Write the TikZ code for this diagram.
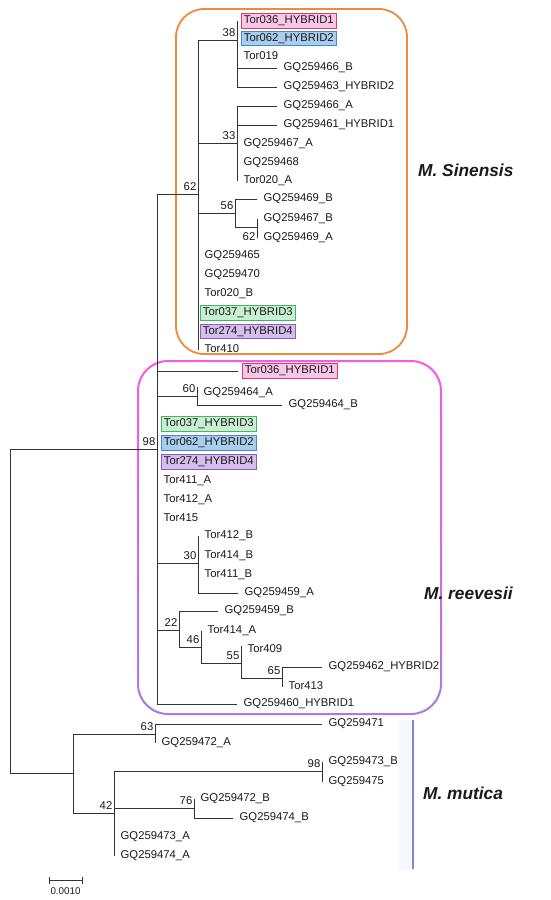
\documentclass[tikz,border=0pt]{standalone}
\usepackage{fontspec}
\setmainfont{Liberation Sans}
\definecolor{treegray}{HTML}{333333}
\definecolor{txt}{HTML}{1A1A1A}
\definecolor{orangeb}{HTML}{EE8A3A}
\definecolor{pinktop}{HTML}{F25CE8}
\definecolor{purplebot}{HTML}{A77CE6}
\definecolor{hyaf}{HTML}{F9C5EA}
\definecolor{hyad}{HTML}{E23B5C}
\definecolor{hybf}{HTML}{A9CDEC}
\definecolor{hybd}{HTML}{3E8CCB}
\definecolor{hycf}{HTML}{C9EFD2}
\definecolor{hycd}{HTML}{45B463}
\definecolor{hydf}{HTML}{D4BEEC}
\definecolor{hydd}{HTML}{8E5CBC}
\definecolor{blueline}{HTML}{7F86D6}
\definecolor{bluestrip}{HTML}{F5F9FD}
\newcommand\leaffont{\fontsize{11.3}{13}\selectfont}
\newcommand\cladefont{\fontsize{17.3}{20}\selectfont\bfseries\itshape}
\newcommand\mkleaf[6]{\coordinate (#2) at (#3,#4); \draw[br] (#1) |- (#2); \node[#5] (#2-l) at (#2) {#6};}
\begin{document}
\begin{tikzpicture}[x=1pt,y=-1pt,
  br/.style={draw=treegray, line width=0.95pt},
  leaf/.style={anchor=west, inner xsep=3pt, inner ysep=2pt, text height=8.3pt, text depth=2.4pt, font=\leaffont, text=txt, xshift=3.5pt},
  hya/.style={leaf, fill=hyaf, draw=hyad, line width=0.8pt},
  hyb/.style={leaf, fill=hybf, draw=hybd, line width=0.8pt},
  hyc/.style={leaf, fill=hycf, draw=hycd, line width=0.8pt},
  hyd/.style={leaf, fill=hydf, draw=hydd, line width=0.8pt},
  bs/.style={anchor=base east, inner sep=0pt, font=\leaffont, text=txt, xshift=-1.5pt, yshift=3.5pt},
  bsz/.style={anchor=base east, inner sep=0pt, font=\leaffont, text=txt},
  clade/.style={anchor=west, inner sep=0pt, font=\cladefont, text=txt}]
\useasboundingbox (0,0) rectangle (550,900);
\fill[white] (0,0) rectangle (550,900);
% clade frames
\draw[orangeb, line width=1.8pt, rounded corners=28pt] (176,9) rectangle (407,354);
\shade[top color=pinktop, bottom color=purplebot, even odd rule]
  [rounded corners=31pt] (137,360) rectangle (442,715)
  [rounded corners=29pt] (139,362) rectangle (440,713);
\fill[bluestrip] (399,720) rectangle (413,870);
\coordinate (bl1) at (413,720);
\coordinate (bl2) at (413,869);
\draw[blueline, line width=1.6pt] (bl1) -- (bl2);
% internal nodes
\coordinate (R) at (10,600);
\coordinate (n98) at (157,449);
\coordinate (n62s) at (198,194);
\coordinate (n38) at (237,40);
\coordinate (n33) at (237,143);
\coordinate (n56) at (235,213);
\coordinate (n62i) at (257,227);
\coordinate (n60) at (197,396);
\coordinate (n30) at (198,563);
\coordinate (n22) at (179,630);
\coordinate (n46) at (201,647);
\coordinate (n55) at (241,663);
\coordinate (n65) at (282,678);
\coordinate (nM) at (73,773);
\coordinate (n63) at (155,734);
\coordinate (n42) at (114,813);
\coordinate (n98b) at (322,771);
\coordinate (n76) at (194,808);
\draw[br] (R) |- (n98);
\draw[br] (R) |- (nM);
\draw[br] (n98) |- (n62s);
\draw[br] (n62s) |- (n38);
\draw[br] (n62s) |- (n33);
\draw[br] (n62s) |- (n56);
\draw[br] (n56) |- (n62i);
\draw[br] (n98) |- (n60);
\draw[br] (n98) |- (n30);
\draw[br] (n98) |- (n22);
\draw[br] (n22) |- (n46);
\draw[br] (n46) |- (n55);
\draw[br] (n55) |- (n65);
\draw[br] (nM) |- (n63);
\draw[br] (nM) |- (n42);
\draw[br] (n42) |- (n98b);
\draw[br] (n42) |- (n76);
% leaves: M. Sinensis
\mkleaf{n38}{a1}{237}{21}{hya}{Tor036\_HYBRID1}
\mkleaf{n38}{a2}{237}{38.5}{hyb}{Tor062\_HYBRID2}
\mkleaf{n38}{a3}{237}{57}{leaf}{Tor019}
\mkleaf{n38}{a4}{277}{68}{leaf}{GQ259466\_B}
\mkleaf{n38}{a5}{277}{87}{leaf}{GQ259463\_HYBRID2}
\mkleaf{n33}{b1}{277}{106}{leaf}{GQ259466\_A}
\mkleaf{n33}{b2}{277}{125}{leaf}{GQ259461\_HYBRID1}
\mkleaf{n33}{b3}{237}{144}{leaf}{GQ259467\_A}
\mkleaf{n33}{b4}{237}{163}{leaf}{GQ259468}
\mkleaf{n33}{b5}{237}{181}{leaf}{Tor020\_A}
\mkleaf{n56}{c1}{257}{199}{leaf}{GQ259469\_B}
\mkleaf{n62i}{c2}{257}{219}{leaf}{GQ259467\_B}
\mkleaf{n62i}{c3}{257}{238}{leaf}{GQ259469\_A}
\mkleaf{n62s}{d1}{198}{256}{leaf}{GQ259465}
\mkleaf{n62s}{d2}{198}{275}{leaf}{GQ259470}
\mkleaf{n62s}{d3}{198}{294}{leaf}{Tor020\_B}
\mkleaf{n62s}{d4}{198}{313}{hyc,xshift=-2pt}{Tor037\_HYBRID3}
\mkleaf{n62s}{d5}{198}{331.5}{hyd,xshift=-2pt}{Tor274\_HYBRID4}
\mkleaf{n62s}{d6}{198}{350}{leaf}{Tor410}
% leaves: M. reevesii
\mkleaf{n98}{e1}{238}{371}{hya}{Tor036\_HYBRID1}
\mkleaf{n60}{f1}{197}{387}{leaf,yshift=-6pt}{GQ259464\_A}
\mkleaf{n60}{f2}{282}{405}{leaf}{GQ259464\_B}
\mkleaf{n98}{e2}{157}{424}{hyc}{Tor037\_HYBRID3}
\mkleaf{n98}{e3}{157}{443}{hyb}{Tor062\_HYBRID2}
\mkleaf{n98}{e4}{157}{462}{hyd}{Tor274\_HYBRID4}
\mkleaf{n98}{e5}{157}{481}{leaf}{Tor411\_A}
\mkleaf{n98}{e6}{157}{500}{leaf}{Tor412\_A}
\mkleaf{n98}{e7}{157}{519}{leaf}{Tor415}
\mkleaf{n30}{g1}{198}{536}{leaf}{Tor412\_B}
\mkleaf{n30}{g2}{198}{556}{leaf}{Tor414\_B}
\mkleaf{n30}{g3}{198}{575}{leaf}{Tor411\_B}
\mkleaf{n30}{g4}{238}{593}{leaf}{GQ259459\_A}
\mkleaf{n22}{h1}{218}{611}{leaf}{GQ259459\_B}
\mkleaf{n46}{h2}{201}{631}{leaf}{Tor414\_A}
\mkleaf{n55}{h3}{241}{646}{leaf,yshift=-4pt}{Tor409}
\mkleaf{n65}{h4}{322}{667}{leaf}{GQ259462\_HYBRID2}
\mkleaf{n65}{h5}{282}{687}{leaf}{Tor413}
\mkleaf{n98}{e8}{237}{704}{leaf}{GQ259460\_HYBRID1}
% leaves: M. mutica
\mkleaf{n63}{i1}{322}{724}{leaf}{GQ259471}
\mkleaf{n63}{i2}{155}{743}{leaf}{GQ259472\_A}
\mkleaf{n98b}{j1}{322}{762}{leaf}{GQ259473\_B}
\mkleaf{n98b}{j2}{322}{782}{leaf}{GQ259475}
\mkleaf{n76}{k1}{194}{799}{leaf}{GQ259472\_B}
\mkleaf{n76}{k2}{233}{818}{leaf}{GQ259474\_B}
\mkleaf{n42}{k3}{114}{837}{leaf}{GQ259473\_A}
\mkleaf{n42}{k4}{114}{856}{leaf}{GQ259474\_A}
% bootstrap values
\node[bs] at (n38) {38};
\node[bs] at (n33) {33};
\node[bs] at (n62s) {62};
\node[bs] at (n56) {56};
\node[bsz] at (255.5,240.5) {62};
\node[bs] at (n98) {98};
\node[bs] at (n60) {60};
\node[bs] at (n30) {30};
\node[bs] at (n22) {22};
\node[bs] at (n46) {46};
\node[bs] at (n55) {55};
\node[bs] at (n65) {65};
\node[bs] at (n63) {63};
\node[bs] at (n42) {42};
\node[bs] at (n98b) {98};
\node[bs] at (n76) {76};
% clade names
\node[clade] (cs) at (418,170) {M. Sinensis};
\node[clade] (cr) at (424,593) {M. reevesii};
\node[clade] (cm) at (423,793) {M. mutica};
% scale bar
\coordinate (s1) at (49,880);
\coordinate (s2) at (82,880);
\draw[br] (s1) -- (s2);
\draw[br] ([yshift=3.5pt]s1) -- ([yshift=-3.5pt]s1);
\draw[br] ([yshift=3.5pt]s2) -- ([yshift=-3.5pt]s2);
\node[font=\fontsize{9.8}{11}\selectfont, text=txt, inner sep=0pt] (sl) at (65.5,891) {0.0010};
\end{tikzpicture}
\end{document}
